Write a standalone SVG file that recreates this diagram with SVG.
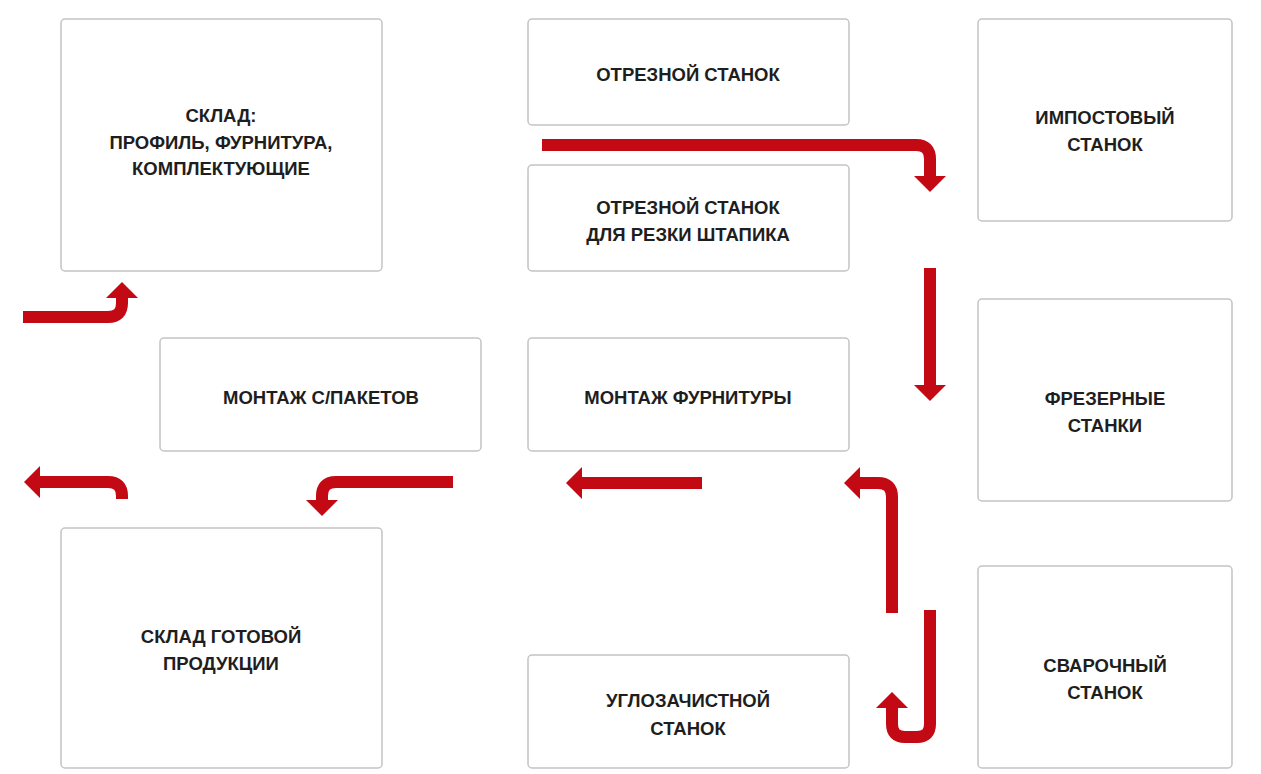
<svg xmlns="http://www.w3.org/2000/svg" width="1261" height="774" viewBox="0 0 1261 774">
<style>
.box{fill:#fff;stroke:#c4c4c4;stroke-width:1.5}
.t{font-family:"Liberation Sans",Arial,sans-serif;font-weight:bold;font-size:18.5px;fill:#1e1e1e;text-anchor:middle}
.c{fill:none;stroke:#c30a14;stroke-width:12}
</style>
<defs>
<marker id="ah" viewBox="0 -16 16 32" refX="0" refY="0" markerWidth="16" markerHeight="32" markerUnits="userSpaceOnUse" orient="auto">
<path d="M0,-16 L16,0 L0,16 Z" fill="#c30a14"/>
</marker>
</defs>
<rect width="1261" height="774" fill="#fff"/>
<g id="sklad">
<rect class="box" x="61" y="19" width="321" height="252" rx="4"/>
<text class="t" x="221" y="122">СКЛАД:</text>
<text class="t" x="221" y="149">ПРОФИЛЬ, ФУРНИТУРА,</text>
<text class="t" x="221" y="175">КОМПЛЕКТУЮЩИЕ</text>
</g>
<g id="otreznoy">
<rect class="box" x="528" y="19" width="321" height="106" rx="4"/>
<text class="t" x="688" y="81">ОТРЕЗНОЙ СТАНОК</text>
</g>
<g id="shtapik">
<rect class="box" x="528" y="165" width="321" height="106" rx="4"/>
<text class="t" x="688" y="214">ОТРЕЗНОЙ СТАНОК</text>
<text class="t" x="688" y="241">ДЛЯ РЕЗКИ ШТАПИКА</text>
</g>
<g id="impost">
<rect class="box" x="978" y="19" width="254" height="202" rx="4"/>
<text class="t" x="1105" y="124">ИМПОСТОВЫЙ</text>
<text class="t" x="1105" y="151">СТАНОК</text>
</g>
<g id="frez">
<rect class="box" x="978" y="299" width="254" height="202" rx="4"/>
<text class="t" x="1105" y="405">ФРЕЗЕРНЫЕ</text>
<text class="t" x="1105" y="432">СТАНКИ</text>
</g>
<g id="svar">
<rect class="box" x="978" y="566" width="254" height="202" rx="4"/>
<text class="t" x="1105" y="672">СВАРОЧНЫЙ</text>
<text class="t" x="1105" y="699">СТАНОК</text>
</g>
<g id="spaket">
<rect class="box" x="160" y="338" width="321" height="113" rx="4"/>
<text class="t" x="321" y="404">МОНТАЖ С/ПАКЕТОВ</text>
</g>
<g id="furn">
<rect class="box" x="528" y="338" width="321" height="113" rx="4"/>
<text class="t" x="688" y="404">МОНТАЖ ФУРНИТУРЫ</text>
</g>
<g id="gotov">
<rect class="box" x="61" y="528" width="321" height="240" rx="4"/>
<text class="t" x="221" y="643">СКЛАД ГОТОВОЙ</text>
<text class="t" x="221" y="670">ПРОДУКЦИИ</text>
</g>
<g id="ugol">
<rect class="box" x="528" y="655" width="321" height="113" rx="4"/>
<text class="t" x="688" y="707">УГЛОЗАЧИСТНОЙ</text>
<text class="t" x="688" y="735">СТАНОК</text>
</g>
<g id="connectors">
<path class="c" marker-end="url(#ah)" d="M542,145 H916 Q930,145 930,159 V176"/>
<path class="c" marker-end="url(#ah)" d="M930,268 V385"/>
<path class="c" marker-end="url(#ah)" d="M23,317 H108 Q122,317 122,303 V298"/>
<path class="c" marker-end="url(#ah)" d="M122,499 V496 Q122,482 108,482 H40"/>
<path class="c" marker-end="url(#ah)" d="M453,482 H336 Q322,482 322,496 V500"/>
<path class="c" marker-end="url(#ah)" d="M702,483 H582"/>
<path class="c" marker-end="url(#ah)" d="M892,613 V497 Q892,483 878,483 H860"/>
<path class="c" marker-end="url(#ah)" d="M930,610 V724 Q930,737 917,737 H905 Q892,737 892,724 V708"/>
</g>
</svg>
